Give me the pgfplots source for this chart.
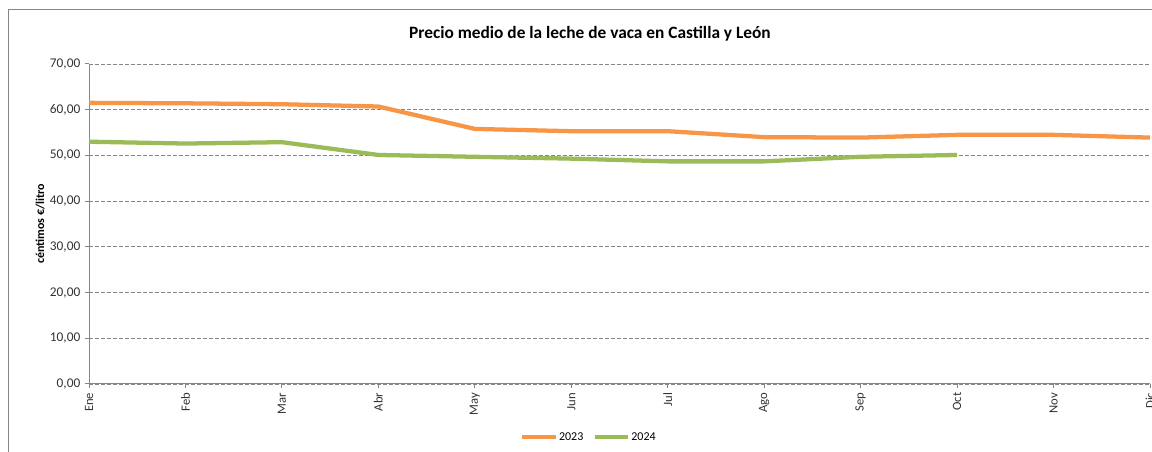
\documentclass[border=0pt]{standalone}
\usepackage{fontspec}
\setmainfont{Carlito}
\usepackage{pgfplots}
\pgfplotsset{compat=1.18}
\definecolor{c23}{HTML}{F79646}
\definecolor{c24}{HTML}{9BBB59}
\definecolor{axgray}{HTML}{868686}

\begin{document}
\begin{tikzpicture}[x=0.75pt,y=0.75pt]
\useasboundingbox (0,0) rectangle (1152,452);
\draw[axgray, line width=0.75pt] (8,0) -- (8,442) -- (1160,442);
\node[font=\fontsize{13}{15}\selectfont\bfseries] at (590,418) {Precio medio de la leche de vaca en Castilla y León};
\begin{axis}[
  at={(66.75pt,51pt)}, anchor=south west,
  scale only axis, width=795.75pt, height=240pt,
  xmin=0, xmax=11, ymin=0, ymax=70,
  xtick={0,...,11},
  xticklabels={Ene,Feb,Mar,Abr,May,Jun,Jul,Ago,Sep,Oct,Nov,Dic},
  ytick={0,10,...,70},
  ymajorgrids,
  grid style={axgray, dash pattern=on 3pt off 1.5pt, line width=0.6pt},
  axis lines*=left,
  axis line style={axgray, line width=0.75pt},
  tick style={axgray, line width=0.75pt},
  tick align=outside, major tick length=3pt,
  x tick label style={rotate=90, anchor=east, font=\fontsize{9.5}{10}\selectfont, text=black!80},
  y tick label style={font=\fontsize{10}{11}\selectfont, text=black!80},
  yticklabel style={/pgf/number format/.cd, fixed, fixed zerofill, precision=2, use comma, 1000 sep={}, assume math mode=true},
  ylabel={céntimos €/litro},
  ylabel style={at={(axis description cs:-0.046,0.5)}, anchor=center, font=\fontsize{9}{10}\selectfont\bfseries},
  clip=false,
  legend columns=2,
  legend style={at={(axis description cs:0.471,-0.166)}, anchor=center, draw=none, fill=none,
    font=\fontsize{9}{10}\selectfont, /tikz/every even column/.append style={column sep=6pt},
    nodes={inner sep=1pt}},
  legend image code/.code={\draw[#1, line width=3pt] (0pt,0pt) -- (25pt,0pt);},
]
\addplot[c23, line width=3.2pt] coordinates {
(0,61.5) (1,61.4) (2,61.2) (3,60.7) (4,55.8) (5,55.3) (6,55.3) (7,54.0) (8,53.9) (9,54.5) (10,54.5) (11,53.9)};
\addlegendentry{2023}
\addplot[c24, line width=3.2pt] coordinates {
(0,53.0) (1,52.6) (2,52.9) (3,50.1) (4,49.7) (5,49.3) (6,48.7) (7,48.7) (8,49.7) (9,50.1)};
\addlegendentry{2024}
\end{axis}
\end{tikzpicture}
\end{document}
